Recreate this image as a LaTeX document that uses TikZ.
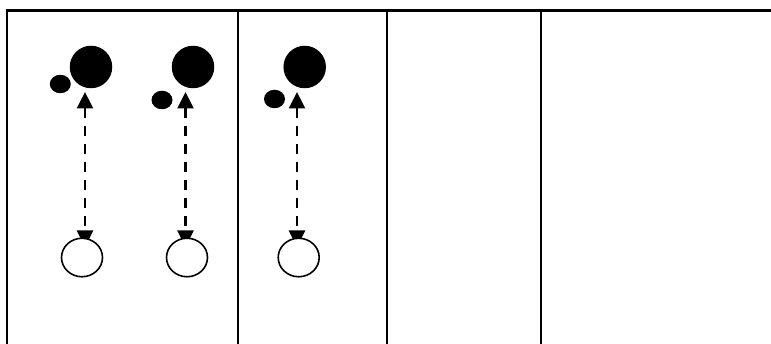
\documentclass[tikz,border=0pt]{standalone}
\usetikzlibrary{arrows.meta,shapes.geometric,backgrounds}
\begin{document}
\begin{tikzpicture}[x=1pt,y=-1pt,
  rule/.style={line width=2.6pt},
  bigdot/.style={circle,fill=black,inner sep=0pt,minimum size=42.5pt},
  smalldot/.style={ellipse,fill=black,inner sep=0pt,minimum width=21pt,minimum height=18.5pt},
  hollow/.style={ellipse,draw=black,fill=white,line width=1.6pt,inner sep=0pt,minimum width=41pt,minimum height=38.5pt},
  link/.style={line width=2.4pt,dash pattern=on 10pt off 8pt,
    {Triangle[length=16.5pt,width=16pt]}-{Triangle[length=16.5pt,width=16pt]}}]
\useasboundingbox (0,0) rectangle (771,344);
% table rules
\draw[rule] (5.7,10.5) -- (771,10.5);
\draw[rule] (7,9.2) -- (7,344);
\draw[rule] (238,9.2) -- (238,344);
\draw[rule] (387,9.2) -- (387,344);
\draw[rule] (541,9.2) -- (541,344);
% group 1
\node[bigdot] (g1) at (91,67) {};
\node[smalldot] (s1) at (60.3,84) {};
\node[hollow] (b1) at (82,257.5) {};
\coordinate (t1) at (85,92);
\coordinate (e1) at (85,247);
% group 2
\node[bigdot] (g2) at (193,67) {};
\node[smalldot] (s2) at (162,100) {};
\node[hollow] (b2) at (187,257.5) {};
\coordinate (t2) at (185.5,92);
\coordinate (e2) at (185.5,247);
% group 3
\node[bigdot] (g3) at (304.7,67) {};
\node[smalldot] (s3) at (274.5,99) {};
\node[hollow] (b3) at (298.7,257.5) {};
\coordinate (t3) at (297,92);
\coordinate (e3) at (297,247);
\begin{pgfonlayer}{background}
\fill[white] (0,0) rectangle (771,344);
\draw[link] (t1) -- (e1);
\draw[link] (t2) -- (e2);
\draw[link] (t3) -- (e3);
\end{pgfonlayer}
\end{tikzpicture}
\end{document}
